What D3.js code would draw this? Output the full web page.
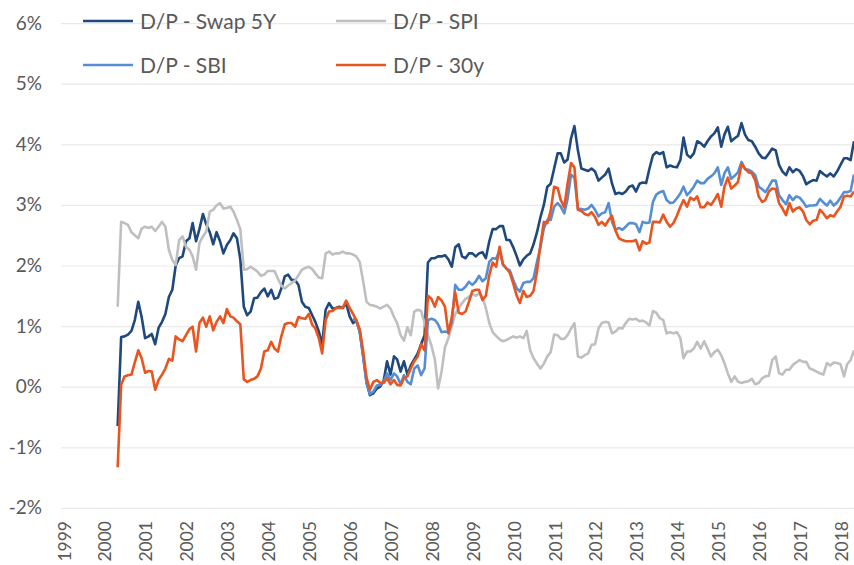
<!DOCTYPE html>
<meta charset="utf-8">
<script src="https://d3js.org/d3.v7.min.js"></script>
<style>
  body { margin: 0; background: #fff; }
  text { font-family: Lato, "Open Sans", sans-serif; fill: #595959; }
</style>
<svg id="chart" width="854" height="565"></svg>
<script>

// monthly readings (percent), first point end of May 2000
var startDate = new Date(2000, 4, 21);

var swap5y = [
  -0.65, 0.82, 0.83, 0.86, 0.92, 1.1, 1.4, 1.15, 0.8, 0.83,
  0.87, 0.7, 0.97, 1.07, 1.2, 1.48, 1.6, 2.0, 2.12, 2.15,
  2.4, 2.45, 2.7, 2.4, 2.6, 2.85, 2.68, 2.55, 2.35, 2.55,
  2.4, 2.2, 2.34, 2.42, 2.53, 2.45, 2.1, 1.32, 1.18, 1.24,
  1.46, 1.47, 1.56, 1.62, 1.49, 1.6, 1.45, 1.47, 1.62, 1.82,
  1.85, 1.76, 1.76, 1.68, 1.4, 1.32, 1.3, 1.18, 1.07, 0.91,
  0.7, 1.27, 1.38, 1.29, 1.3, 1.32, 1.3, 1.38, 1.16, 1.05,
  1.1, 0.91, 0.52, 0.08, -0.14, -0.11, -0.03, 0.0, 0.1, 0.42,
  0.2, 0.5, 0.45, 0.25, 0.42, 0.2, 0.35, 0.45, 0.55, 0.7,
  0.85, 2.05, 2.12, 2.12, 2.15, 2.15, 2.17, 2.1, 1.98, 2.3,
  2.35, 2.15, 2.12, 2.2, 2.2, 2.15, 2.2, 2.22, 2.12, 2.4,
  2.6, 2.6, 2.65, 2.65, 2.42, 2.42, 2.3, 2.15, 2.0, 2.1,
  2.16, 2.2, 2.35, 2.55, 2.8, 3.0, 3.3, 3.35, 3.6, 3.85,
  3.85, 3.7, 3.75, 4.1, 4.3, 3.9, 3.6, 3.58, 3.56, 3.6,
  3.55, 3.4, 3.45, 3.5, 3.6, 3.35, 3.18, 3.2, 3.18, 3.22,
  3.3, 3.32, 3.22, 3.35, 3.37, 3.36, 3.6, 3.82, 3.87, 3.84,
  3.87, 3.62, 3.65, 3.63, 3.62, 3.74, 4.11, 3.83, 3.78, 3.85,
  4.05, 4.02, 3.96, 4.05, 4.13, 4.18, 4.28, 3.96, 4.16, 4.29,
  4.05, 4.1, 4.14, 4.35, 4.16, 4.07, 4.05, 3.96, 3.85, 3.78,
  3.77, 3.85, 3.93, 3.9, 3.66, 3.55, 3.49, 3.62, 3.54, 3.59,
  3.56, 3.47, 3.34, 3.38, 3.41, 3.4, 3.56, 3.51, 3.47, 3.52,
  3.47, 3.55, 3.66, 3.77, 3.77, 3.74, 4.05
];

var spi = [
  1.32, 2.72, 2.7, 2.67, 2.55, 2.5, 2.45, 2.61, 2.64, 2.62,
  2.64, 2.57, 2.64, 2.72, 2.64, 2.26, 2.09, 2.01, 2.42, 2.48,
  2.31, 2.26, 2.15, 1.93, 2.37, 2.48, 2.56, 2.89, 2.92, 2.99,
  3.03, 2.94, 2.95, 2.97, 2.89, 2.75, 2.6, 1.93, 1.94, 1.98,
  1.94, 1.9, 1.83, 1.85, 1.91, 1.91, 1.91, 1.78, 1.67, 1.62,
  1.67, 1.71, 1.75, 1.84, 1.93, 1.96, 1.98, 1.94, 1.87, 1.8,
  1.79, 2.2, 2.23, 2.18, 2.2, 2.2, 2.23, 2.2, 2.2, 2.18,
  2.15, 2.06, 1.75, 1.4, 1.35, 1.34, 1.32, 1.29, 1.32, 1.35,
  1.29, 1.15, 1.05, 0.85, 0.76, 0.98, 0.85, 1.24, 1.27, 1.25,
  1.05, 0.85, 0.68, 0.45, -0.03, 0.25, 0.65, 0.8, 1.0, 1.2,
  1.3, 1.38, 1.45, 1.48, 1.53, 1.5, 1.54, 1.48, 1.3, 1.05,
  0.9, 0.84, 0.78, 0.75, 0.77, 0.8, 0.83, 0.81, 0.83, 0.8,
  0.92, 0.6, 0.47, 0.38, 0.3, 0.38, 0.5, 0.57, 0.86, 0.85,
  0.79, 0.79, 0.85, 0.96, 1.05, 0.5, 0.48, 0.52, 0.55, 0.69,
  0.7, 0.96, 1.05, 1.07, 1.06, 0.88, 0.91, 0.97, 0.96, 1.05,
  1.12, 1.11, 1.12, 1.08, 1.09, 1.06, 1.01, 1.25, 1.22, 1.13,
  1.1, 0.88, 0.9, 0.88, 0.9, 0.8, 0.47, 0.58, 0.58, 0.63,
  0.74, 0.63, 0.75, 0.63, 0.5, 0.57, 0.61, 0.52, 0.39, 0.22,
  0.08, 0.17, 0.08, 0.06, 0.08, 0.09, 0.13, 0.04, 0.06, 0.14,
  0.17, 0.18, 0.44, 0.5, 0.22, 0.2, 0.28, 0.28, 0.36, 0.4,
  0.44, 0.41, 0.41, 0.3, 0.28, 0.25, 0.22, 0.2, 0.39, 0.35,
  0.4, 0.39, 0.37, 0.17, 0.37, 0.44, 0.6
];

// SBI only starts in 2006 (69 months after startDate)
var sbiOffset = 69;
var sbi = [
  1.12, 1.08, 0.92, 0.5, 0.05, -0.12, -0.08, 0.02, 0.03, 0.08, 0.22,
  0.11, 0.22, 0.17, 0.04, 0.19, 0.08, 0.04, 0.3, 0.35, 0.19,
  0.3, 1.1, 1.12, 1.1, 1.03, 0.9, 0.91, 0.9, 1.05, 1.68,
  1.6, 1.6, 1.65, 1.73, 1.68, 1.74, 1.83, 1.74, 1.79, 2.06,
  2.12, 2.11, 2.25, 2.01, 1.95, 1.92, 1.76, 1.62, 1.57, 1.71,
  1.73, 1.73, 1.79, 2.06, 2.31, 2.61, 2.75, 2.75, 2.97, 3.03,
  2.97, 2.86, 3.1, 3.5, 3.45, 2.94, 2.93, 2.92, 2.94, 3.0,
  2.92, 2.81, 2.86, 2.88, 3.03, 2.72, 2.59, 2.62, 2.59, 2.64,
  2.7, 2.7, 2.68, 2.55, 2.72, 2.7, 2.71, 3.05, 3.17, 3.21,
  3.23, 3.08, 3.03, 3.04, 3.11, 3.19, 3.3, 3.16, 3.22, 3.3,
  3.4, 3.36, 3.36, 3.43, 3.47, 3.52, 3.62, 3.33, 3.52, 3.62,
  3.43, 3.48, 3.54, 3.71, 3.59, 3.58, 3.55, 3.49, 3.3, 3.26,
  3.21, 3.3, 3.4, 3.4, 3.16, 3.08, 3.01, 3.16, 3.08, 3.14,
  3.12, 3.05, 2.97, 2.99, 2.99, 3.0, 3.1, 3.04, 2.99, 3.07,
  2.99, 3.04, 3.12, 3.21, 3.21, 3.23, 3.5
];

var y30 = [
  -1.33, 0.03, 0.17, 0.19, 0.2, 0.4, 0.6, 0.47, 0.23, 0.26,
  0.25, -0.05, 0.11, 0.2, 0.3, 0.46, 0.43, 0.83, 0.78, 0.75,
  0.85, 0.95, 0.99, 0.58, 1.05, 1.14, 0.99, 1.16, 0.93, 1.07,
  1.16, 1.05, 1.28, 1.16, 1.14, 1.08, 1.03, 0.12, 0.08, 0.11,
  0.13, 0.17, 0.3, 0.58, 0.6, 0.74, 0.63, 0.58, 0.83, 1.03,
  1.05, 1.05, 0.99, 1.15, 1.13, 1.12, 1.2, 1.02, 0.96, 0.8,
  0.55, 1.1, 1.24, 1.25, 1.3, 1.3, 1.3, 1.42, 1.3, 1.2,
  1.1, 0.95, 0.6, 0.15, -0.05, 0.08, 0.11, 0.06, 0.06, 0.14,
  0.04, 0.11, 0.03, 0.02, 0.14, 0.17, 0.3, 0.42, 0.5, 0.7,
  0.6, 1.5, 1.45, 1.32, 1.48, 1.42, 1.32, 0.88, 1.15, 1.55,
  1.22, 1.2, 1.24, 1.4, 1.58, 1.6, 1.6, 1.43, 1.5, 1.84,
  2.05, 1.98, 2.31, 2.02, 1.95, 1.88, 1.7, 1.5, 1.38, 1.58,
  1.48, 1.5, 1.58, 1.9, 2.35, 2.72, 2.7, 2.9, 3.3, 3.28,
  3.08, 2.96, 3.35, 3.69, 3.62, 2.92, 2.9, 2.85, 2.83, 2.88,
  2.8, 2.67, 2.72, 2.66, 2.75, 2.82, 2.58, 2.45, 2.42, 2.4,
  2.4, 2.4, 2.42, 2.25, 2.4, 2.36, 2.38, 2.72, 2.72, 2.71,
  2.84, 2.72, 2.64, 2.7, 2.82, 2.97, 3.08, 2.97, 3.12, 3.08,
  3.14, 2.96, 2.96, 3.04, 3.0, 3.08, 3.18, 2.97, 3.3, 3.45,
  3.27, 3.32, 3.38, 3.67, 3.6, 3.54, 3.52, 3.41, 3.14, 3.05,
  3.08, 3.22, 3.27, 3.26, 3.03, 2.94, 2.83, 3.03, 2.89, 2.94,
  2.96, 2.89, 2.75, 2.68, 2.74, 2.75, 2.92, 2.86, 2.78, 2.83,
  2.81, 2.89, 2.97, 3.14, 3.15, 3.14, 3.22
];

var years = d3.range(1999, 2019);
var yTicks = [-2, -1, 0, 1, 2, 3, 4, 5, 6];

var seriesNames = ["D/P - Swap 5Y", "D/P - SPI", "D/P - SBI", "D/P - 30y"];
var seriesColors = ["#1f497d", "#bfbfbf", "#558ed5", "#e9541f"];

var svg = d3.select("#chart");

var left = 61, right = 854;

var x = d3.scaleTime()
    .domain([new Date(1999, 0, 1), new Date(2018, 0, 1)])
    .range([left, 838.3]);

var y = d3.scaleLinear()
    .domain([-2, 6])
    .range([507.9, 23.1]);

// gridlines + y labels
var yAxis = svg.append("g")
    .attr("transform", "translate(" + left + ",0)")
    .call(d3.axisLeft(y)
      .tickValues(yTicks)
      .tickSize(-(right - left))
      .tickPadding(19)
      .tickFormat(function(d) { return d + "%"; }));
yAxis.select(".domain").remove();
yAxis.selectAll("line").attr("stroke", "#e9e9e9").attr("stroke-width", 1.2);
yAxis.selectAll("text")
    .style("font-size", "19px")
    .style("fill", "#595959")
    .style("font-family", "Lato, sans-serif");

// year labels
var xAxis = svg.append("g")
    .attr("transform", "translate(0,521)")
    .call(d3.axisBottom(x)
      .tickValues(years.map(function(yr) { return new Date(yr, 0, 1); }))
      .tickSize(0)
      .tickFormat(d3.timeFormat("%Y")));
xAxis.select(".domain").remove();
xAxis.selectAll("text")
    .attr("transform", "rotate(-90)")
    .attr("x", 0)
    .attr("y", 0)
    .attr("dy", "0.52em")
    .style("text-anchor", "end")
    .style("font-size", "17.5px")
    .style("fill", "#595959")
    .style("font-family", "Lato, sans-serif");

function toPoints(values, offset) {
  return values.map(function(v, i) {
    return { date: d3.timeMonth.offset(startDate, i + offset), value: v };
  });
}

var allSeries = [
  toPoints(swap5y, 0),
  toPoints(spi, 0),
  toPoints(sbi, sbiOffset),
  toPoints(y30, 0)
];

var line = d3.line()
    .x(function(d) { return x(d.date); })
    .y(function(d) { return y(d.value); });

svg.append("g")
  .selectAll("path")
  .data(allSeries)
  .enter()
  .append("path")
    .attr("d", line)
    .attr("fill", "none")
    .attr("stroke", function(d, i) { return seriesColors[i]; })
    .attr("stroke-width", 2.6)
    .attr("stroke-linejoin", "round");

// legend, two rows of two
var legendPos = [[83, 21], [336, 21], [83, 65], [336, 65]];
var legend = svg.append("g")
  .selectAll("g")
  .data(seriesNames)
  .enter()
  .append("g")
    .attr("transform", function(d, i) { return "translate(" + legendPos[i][0] + "," + legendPos[i][1] + ")"; });

legend.append("line")
    .attr("x1", 0).attr("x2", 50)
    .attr("stroke", function(d, i) { return seriesColors[i]; })
    .attr("stroke-width", 2.6);

legend.append("text")
    .attr("x", 57)
    .attr("dy", "0.36em")
    .style("font-size", "21px")
    .text(function(d) { return d; });

</script>
